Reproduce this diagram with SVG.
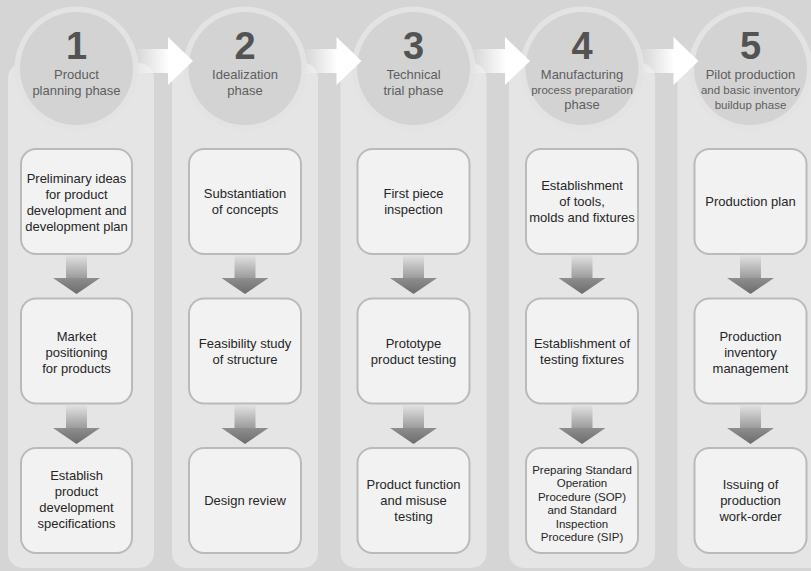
<svg xmlns="http://www.w3.org/2000/svg" width="811" height="571" viewBox="0 0 811 571">
<defs>
<linearGradient id="shaftH" x1="0" y1="0" x2="1" y2="0"><stop offset="0" stop-color="#ffffff" stop-opacity="0"/><stop offset="1" stop-color="#ffffff" stop-opacity="1"/></linearGradient>
<linearGradient id="shaftV" x1="0" y1="0" x2="0" y2="1"><stop offset="0" stop-color="#e2e2e2"/><stop offset="1" stop-color="#9c9c9c"/></linearGradient>
<linearGradient id="headV" x1="0" y1="0" x2="0" y2="1"><stop offset="0" stop-color="#8e8e8e"/><stop offset="1" stop-color="#6c6c6c"/></linearGradient>
<g id="down"><rect x="-10.5" y="0" width="21" height="23" fill="url(#shaftV)"/><polygon points="-23.5,23 23.5,23 0,39" fill="url(#headV)"/></g>
<g id="right"><rect x="0" y="49" width="34" height="24" fill="url(#shaftH)"/><polygon points="33,37 58,61 33,85" fill="#ffffff"/></g>
</defs>
<style>
.col{fill:#e5e5e6}
.ring{fill:#e3e3e4}
.disc{fill:#d3d3d4}
.num{font-family:"Liberation Sans",Arial,sans-serif;font-weight:bold;font-size:38px;fill:#535353;text-anchor:middle}
.ph{font-family:"Liberation Sans",Arial,sans-serif;font-size:13px;fill:#5e5e5e;text-anchor:middle}
.phs{font-size:11.5px}
.box{fill:#f2f2f2;stroke:#bababa;stroke-width:2}
.bt{font-family:"Liberation Sans",Arial,sans-serif;font-size:13px;fill:#262626;text-anchor:middle}
.sm{font-size:11.5px}
</style>
<rect x="0" y="0" width="811" height="571" fill="#d5d5d6"/>

<g id="col1">
<rect class="col" x="8" y="63" width="146" height="505" rx="15"/>
<circle class="ring" cx="76.5" cy="68.5" r="62"/><circle class="disc" cx="76.5" cy="68.5" r="56.5"/>
<text class="num" x="76.5" y="59">1</text>
<text class="ph" x="76.5" y="79">Product</text>
<text class="ph" x="76.5" y="94.5">planning phase</text>
</g>
<g id="col2">
<rect class="col" x="172" y="63" width="146" height="505" rx="15"/>
<circle class="ring" cx="245" cy="68.5" r="62"/><circle class="disc" cx="245" cy="68.5" r="56.5"/>
<text class="num" x="245" y="59">2</text>
<text class="ph" x="245" y="79">Idealization</text>
<text class="ph" x="245" y="94.5">phase</text>
</g>
<g id="col3">
<rect class="col" x="340.5" y="63" width="146" height="505" rx="15"/>
<circle class="ring" cx="413.5" cy="68.5" r="62"/><circle class="disc" cx="413.5" cy="68.5" r="56.5"/>
<text class="num" x="413.5" y="59">3</text>
<text class="ph" x="413.5" y="79">Technical</text>
<text class="ph" x="413.5" y="94.5">trial phase</text>
</g>
<g id="col4">
<rect class="col" x="509" y="63" width="146" height="505" rx="15"/>
<circle class="ring" cx="582" cy="68.5" r="62"/><circle class="disc" cx="582" cy="68.5" r="56.5"/>
<text class="num" x="582" y="59">4</text>
<text class="ph" x="582" y="79">Manufacturing</text>
<text class="ph phs" x="582" y="94">process preparation</text>
<text class="ph" x="582" y="109">phase</text>
</g>
<g id="col5">
<rect class="col" x="677.5" y="63" width="146" height="505" rx="15"/>
<circle class="ring" cx="750.5" cy="68.5" r="62"/><circle class="disc" cx="750.5" cy="68.5" r="56.5"/>
<text class="num" x="750.5" y="59">5</text>
<text class="ph" x="750.5" y="79">Pilot production</text>
<text class="ph phs" x="750.5" y="94">and basic inventory</text>
<text class="ph phs" x="750.5" y="109">buildup phase</text>
</g>

<g id="connectors">
<use href="#right" x="135"/>
<use href="#right" x="303.5"/>
<use href="#right" x="472"/>
<use href="#right" x="640.5"/>
<use href="#down" x="76.5" y="255"/><use href="#down" x="76.5" y="405"/>
<use href="#down" x="245" y="255"/><use href="#down" x="245" y="405"/>
<use href="#down" x="413.5" y="255"/><use href="#down" x="413.5" y="405"/>
<use href="#down" x="582" y="255"/><use href="#down" x="582" y="405"/>
<use href="#down" x="750.5" y="255"/><use href="#down" x="750.5" y="405"/>
</g>

<g id="n1a"><rect class="box" x="21" y="149" width="111" height="105" rx="15"/>
<text class="bt" x="76.5" y="182.5">Preliminary ideas</text><text class="bt" x="76.5" y="198.5">for product</text><text class="bt" x="76.5" y="214.5">development and</text><text class="bt" x="76.5" y="230.5">development plan</text></g>
<g id="n1b"><rect class="box" x="21" y="298.5" width="111" height="105" rx="15"/>
<text class="bt" x="76.5" y="340.5">Market</text><text class="bt" x="76.5" y="356.5">positioning</text><text class="bt" x="76.5" y="372.5">for products</text></g>
<g id="n1c"><rect class="box" x="21" y="448" width="111" height="105" rx="15"/>
<text class="bt" x="76.5" y="480">Establish</text><text class="bt" x="76.5" y="496">product</text><text class="bt" x="76.5" y="512">development</text><text class="bt" x="76.5" y="528">specifications</text></g>

<g id="n2a"><rect class="box" x="189" y="149" width="112" height="105" rx="15"/>
<text class="bt" x="245" y="198">Substantiation</text><text class="bt" x="245" y="214">of concepts</text></g>
<g id="n2b"><rect class="box" x="189" y="298.5" width="112" height="105" rx="15"/>
<text class="bt" x="245" y="347.5">Feasibility study</text><text class="bt" x="245" y="363.5">of structure</text></g>
<g id="n2c"><rect class="box" x="189" y="448" width="112" height="105" rx="15"/>
<text class="bt" x="245" y="505">Design review</text></g>

<g id="n3a"><rect class="box" x="357.5" y="149" width="112" height="105" rx="15"/>
<text class="bt" x="413.5" y="198">First piece</text><text class="bt" x="413.5" y="214">inspection</text></g>
<g id="n3b"><rect class="box" x="357.5" y="298.5" width="112" height="105" rx="15"/>
<text class="bt" x="413.5" y="347.5">Prototype</text><text class="bt" x="413.5" y="363.5">product testing</text></g>
<g id="n3c"><rect class="box" x="357.5" y="448" width="112" height="105" rx="15"/>
<text class="bt" x="413.5" y="489">Product function</text><text class="bt" x="413.5" y="505">and misuse</text><text class="bt" x="413.5" y="521">testing</text></g>

<g id="n4a"><rect class="box" x="526" y="149" width="112" height="105" rx="15"/>
<text class="bt" x="582" y="189.5">Establishment</text><text class="bt" x="582" y="205.5">of tools,</text><text class="bt" x="582" y="221.5">molds and fixtures</text></g>
<g id="n4b"><rect class="box" x="526" y="298.5" width="112" height="105" rx="15"/>
<text class="bt" x="582" y="347.5">Establishment of</text><text class="bt" x="582" y="363.5">testing fixtures</text></g>
<g id="n4c"><rect class="box" x="526" y="448" width="112" height="105" rx="15"/>
<text class="bt sm" x="582" y="473.5">Preparing Standard</text><text class="bt sm" x="582" y="487">Operation</text><text class="bt sm" x="582" y="500.5">Procedure (SOP)</text><text class="bt sm" x="582" y="514">and Standard</text><text class="bt sm" x="582" y="527.5">Inspection</text><text class="bt sm" x="582" y="541">Procedure (SIP)</text></g>

<g id="n5a"><rect class="box" x="694.5" y="149" width="112" height="105" rx="15"/>
<text class="bt" x="750.5" y="206">Production plan</text></g>
<g id="n5b"><rect class="box" x="694.5" y="298.5" width="112" height="105" rx="15"/>
<text class="bt" x="750.5" y="340.5">Production</text><text class="bt" x="750.5" y="356.5">inventory</text><text class="bt" x="750.5" y="372.5">management</text></g>
<g id="n5c"><rect class="box" x="694.5" y="448" width="112" height="105" rx="15"/>
<text class="bt" x="750.5" y="489">Issuing of</text><text class="bt" x="750.5" y="505">production</text><text class="bt" x="750.5" y="521">work-order</text></g>
</svg>
